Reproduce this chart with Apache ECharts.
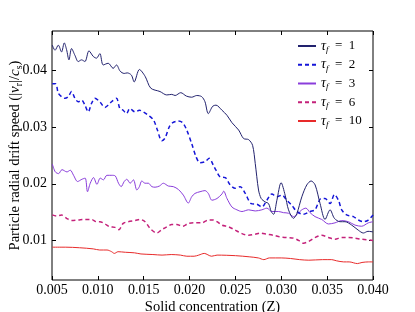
<!DOCTYPE html>
<html>
<head>
<meta charset="utf-8">
<script src="https://cdn.jsdelivr.net/npm/echarts@6/dist/echarts.min.js"></script>
<style>
html,body{margin:0;padding:0;background:#fff;}
#chart{width:415px;height:312px;}
</style>
</head>
<body>
<div id="chart"></div>
<script>
// Solid concentration Z (x) vs particle radial drift speed (y), one array per tau_f
const tau1 = [[0.00503,0.0445],[0.00533,0.0436],[0.00569,0.0445],[0.00604,0.0433],[0.00634,0.0449],[0.00659,0.0437],[0.00685,0.0419],[0.00713,0.0439],[0.0075,0.0427],[0.00786,0.0416],[0.00822,0.0419],[0.00859,0.0416],[0.00903,0.0435],[0.0095,0.0425],[0.00985,0.0422],[0.01022,0.0430],[0.01058,0.0410],[0.01113,0.0413],[0.01167,0.0404],[0.01203,0.0410],[0.01243,0.0399],[0.01287,0.0395],[0.0132,0.0396],[0.01366,0.0392],[0.01396,0.0380],[0.01453,0.0402],[0.01515,0.0390],[0.01577,0.0369],[0.01678,0.0363],[0.01751,0.0357],[0.01806,0.0358],[0.01842,0.0356],[0.01904,0.0361],[0.01965,0.0355],[0.02023,0.0353],[0.02078,0.0356],[0.02132,0.0354],[0.02168,0.0345],[0.02204,0.0324],[0.02252,0.0337],[0.02288,0.0339],[0.02353,0.0330],[0.02408,0.0321],[0.02462,0.0308],[0.02535,0.0295],[0.02589,0.0280],[0.02644,0.0278],[0.02687,0.0268],[0.02716,0.0236],[0.02752,0.0189],[0.02781,0.0174],[0.02824,0.0168],[0.02861,0.0165],[0.0289,0.0151],[0.02916,0.0146],[0.02952,0.0171],[0.02998,0.0202],[0.03042,0.0180],[0.03079,0.0154],[0.03133,0.0139],[0.03169,0.0147],[0.03224,0.0177],[0.03278,0.0198],[0.03325,0.0205],[0.03369,0.0198],[0.03423,0.0165],[0.03477,0.0137],[0.03532,0.0154],[0.03579,0.0139],[0.0364,0.0133],[0.03695,0.0133],[0.03768,0.0127],[0.0384,0.0118],[0.03895,0.0113],[0.03945,0.0116],[0.04,0.0115]];
const tau2 = [[0.00503,0.0377],[0.00539,0.0377],[0.00569,0.0360],[0.00604,0.0354],[0.00641,0.0351],[0.00677,0.0354],[0.00713,0.0363],[0.0075,0.0351],[0.00786,0.0345],[0.00822,0.0348],[0.00859,0.0339],[0.00895,0.0327],[0.00931,0.0342],[0.00968,0.0351],[0.01022,0.0345],[0.01077,0.0335],[0.01113,0.0339],[0.01149,0.0345],[0.01203,0.0351],[0.0124,0.0333],[0.01276,0.0330],[0.01312,0.0324],[0.01349,0.0333],[0.01406,0.0327],[0.01453,0.0330],[0.01497,0.0327],[0.01551,0.0321],[0.01606,0.0313],[0.01649,0.0295],[0.01697,0.0276],[0.01733,0.0281],[0.0178,0.0301],[0.01817,0.0308],[0.01878,0.0311],[0.01925,0.0308],[0.01969,0.0295],[0.02023,0.0271],[0.0207,0.0248],[0.02114,0.0237],[0.02168,0.0239],[0.02215,0.0245],[0.02258,0.0233],[0.02288,0.0224],[0.02335,0.0212],[0.02389,0.0211],[0.02443,0.0198],[0.02498,0.0192],[0.02552,0.0195],[0.02607,0.0183],[0.02672,0.0165],[0.02734,0.0164],[0.02788,0.0159],[0.02843,0.0171],[0.02897,0.0182],[0.02952,0.0177],[0.03006,0.0180],[0.0306,0.0171],[0.03115,0.0162],[0.03169,0.0151],[0.03242,0.0146],[0.03314,0.0151],[0.03368,0.0154],[0.03434,0.0174],[0.03477,0.0174],[0.03532,0.0165],[0.03579,0.0181],[0.03623,0.0171],[0.03659,0.0154],[0.03713,0.0145],[0.03786,0.0142],[0.0384,0.0136],[0.03895,0.0133],[0.03949,0.0136],[0.04,0.0145]];
const tau3 = [[0.00503,0.0235],[0.00536,0.0221],[0.00572,0.0218],[0.00609,0.0225],[0.00663,0.0221],[0.00699,0.0224],[0.00735,0.0215],[0.00779,0.0204],[0.00826,0.0208],[0.00862,0.0210],[0.00887,0.0186],[0.00917,0.0201],[0.00953,0.0211],[0.0099,0.0199],[0.01026,0.0210],[0.01061,0.0207],[0.01098,0.0215],[0.01153,0.0215],[0.01189,0.0214],[0.01225,0.0201],[0.01254,0.0195],[0.01287,0.0204],[0.01316,0.0208],[0.01352,0.0201],[0.01388,0.0207],[0.01425,0.0189],[0.01453,0.0195],[0.01479,0.0205],[0.01515,0.0201],[0.01551,0.0201],[0.01588,0.0195],[0.01624,0.0194],[0.01671,0.0196],[0.01714,0.0201],[0.01769,0.0196],[0.01823,0.0195],[0.01878,0.0190],[0.01932,0.0180],[0.01986,0.0166],[0.02023,0.0177],[0.02059,0.0183],[0.02114,0.0186],[0.02168,0.0188],[0.02204,0.0183],[0.02244,0.0171],[0.02299,0.0174],[0.02353,0.0182],[0.02372,0.0187],[0.02408,0.0174],[0.02462,0.0159],[0.02516,0.0154],[0.02571,0.0151],[0.02644,0.0154],[0.02716,0.0152],[0.02788,0.0154],[0.02843,0.0157],[0.02897,0.0151],[0.0297,0.0151],[0.03024,0.0149],[0.03079,0.0148],[0.03133,0.0142],[0.03224,0.0154],[0.03268,0.0157],[0.03314,0.0149],[0.03368,0.0142],[0.03441,0.0137],[0.03514,0.0129],[0.03586,0.0131],[0.03659,0.0135],[0.03732,0.0133],[0.03804,0.0127],[0.03876,0.0125],[0.03949,0.0131],[0.04,0.0133]];
const tau6 = [[0.00503,0.0145],[0.0055,0.0143],[0.00604,0.0145],[0.00659,0.0139],[0.00713,0.0135],[0.00786,0.0136],[0.00859,0.0137],[0.00931,0.0137],[0.00985,0.0133],[0.01022,0.0133],[0.01077,0.0129],[0.01131,0.0124],[0.01186,0.0123],[0.01229,0.0119],[0.01276,0.0130],[0.0133,0.0133],[0.01406,0.0135],[0.01461,0.0137],[0.01515,0.0133],[0.0157,0.0121],[0.01643,0.0113],[0.01697,0.0119],[0.01751,0.0124],[0.01806,0.0128],[0.0186,0.0128],[0.01925,0.0125],[0.01986,0.0130],[0.0206,0.0131],[0.02132,0.0131],[0.02204,0.0136],[0.02258,0.0136],[0.02299,0.0133],[0.02353,0.0127],[0.02426,0.0124],[0.02498,0.0118],[0.02571,0.0112],[0.02644,0.0109],[0.02716,0.0111],[0.0277,0.0113],[0.02843,0.0111],[0.02916,0.0109],[0.02988,0.0106],[0.0306,0.0105],[0.03133,0.0104],[0.03188,0.0100],[0.03242,0.0095],[0.03297,0.0098],[0.03368,0.0105],[0.03441,0.0109],[0.03514,0.0105],[0.03586,0.0102],[0.03659,0.0105],[0.03732,0.0105],[0.03804,0.0104],[0.03876,0.0102],[0.04,0.0100]];
const tau10 = [[0.00503,0.0088],[0.0065,0.0088],[0.008,0.0087],[0.0095,0.0085],[0.0102,0.0083],[0.011,0.0083],[0.0115,0.0080],[0.0118,0.0077],[0.0122,0.0080],[0.013,0.0079],[0.014,0.0078],[0.0147,0.0076],[0.016,0.0075],[0.017,0.0074],[0.018,0.0075],[0.019,0.0074],[0.0197,0.0072],[0.0205,0.0072],[0.021,0.0074],[0.0216,0.0077],[0.0224,0.0072],[0.023,0.0074],[0.025,0.0073],[0.0265,0.0071],[0.0275,0.0069],[0.0281,0.0066],[0.0287,0.0069],[0.03,0.0069],[0.031,0.0068],[0.032,0.0066],[0.033,0.0065],[0.0345,0.0066],[0.0355,0.0066],[0.036,0.0064],[0.0368,0.0062],[0.0374,0.0062],[0.0383,0.0059],[0.0388,0.0061],[0.0395,0.0062],[0.04,0.0062]];

const tauLabels = ['1', '2', '3', '6', '10'];
const xTicks = [0.005, 0.010, 0.015, 0.020, 0.025, 0.030, 0.035, 0.040];
const yTicks = [0.01, 0.02, 0.03, 0.04];

const SERIF = '"Liberation Serif", "DejaVu Serif", serif';
const seriesData = [tau1, tau2, tau3, tau6, tau10];
const colors = ['#22226e', '#1515d8', '#8a3ddb', '#c4217a', '#e82a2a'];
const dashed = [false, true, false, true, false];

const chart = echarts.init(document.getElementById('chart'), null, {renderer: 'canvas'});

const tickCommon = {show: true, inside: true, length: 4, lineStyle: {color: '#000', width: 1}};

const option = {
  backgroundColor: '#fff',
  animation: false,
  grid: {left: 52, right: 42, top: 31, bottom: 32, outerBoundsMode: 'none', containLabel: false, show: true, borderColor: '#000', borderWidth: 1, backgroundColor: 'transparent'},
  legend: {
    orient: 'vertical', left: 292, top: 34,
    itemWidth: 18, itemHeight: 12, itemGap: 3.75,
    itemStyle: {opacity: 0},
    data: tauLabels.map(t => 'τf = ' + t),
    formatter: function (name) { return '{t|τ}{s|f}{n|  =  ' + name.split('= ')[1] + '}'; },
    textStyle: {
      fontFamily: SERIF, fontSize: 13, color: '#000',
      rich: {
        t: {fontFamily: SERIF, fontStyle: 'italic', fontSize: 14, color: '#000'},
        s: {fontFamily: SERIF, fontStyle: 'italic', fontSize: 9, color: '#000', padding: [7, 0, 0, 0]},
        n: {fontFamily: SERIF, fontSize: 13, color: '#000'}
      }
    }
  },
  xAxis: [{
    type: 'value', min: 0.005, max: 0.040, interval: 0.005, position: 'bottom',
    axisLine: {show: false}, splitLine: {show: false},
    axisTick: tickCommon,
    axisLabel: {fontFamily: SERIF, fontSize: 14, color: '#000', margin: 3, formatter: v => v.toFixed(3)},
    name: 'Solid concentration (Z)', nameLocation: 'middle', nameGap: 20, nameMoveOverlap: false,
    nameTextStyle: {fontFamily: SERIF, fontSize: 14.5, color: '#000'}
  }, {
    type: 'value', min: 0.005, max: 0.040, interval: 0.005, position: 'top',
    axisLine: {show: false}, splitLine: {show: false},
    axisTick: tickCommon, axisLabel: {show: false}
  }],
  yAxis: [{
    type: 'value', min: 0.003, max: 0.047, position: 'left',
    axisLine: {show: false}, splitLine: {show: false},
    axisTick: Object.assign({customValues: yTicks}, tickCommon),
    axisLabel: {customValues: yTicks, fontFamily: SERIF, fontSize: 14, color: '#000', margin: 5, formatter: v => v.toFixed(2)},
    name: 'Particle radial drift speed (|{i|v}{s|r}|/{i|c}{s|s})', nameLocation: 'middle', nameGap: 28, nameRotate: 90, nameMoveOverlap: false,
    nameTextStyle: {
      fontFamily: SERIF, fontSize: 14.5, color: '#000',
      rich: {
        i: {fontFamily: SERIF, fontStyle: 'italic', fontSize: 15, color: '#000'},
        s: {fontFamily: SERIF, fontSize: 10, color: '#000', padding: [7, 0, 0, 0]}
      }
    }
  }, {
    type: 'value', min: 0.003, max: 0.047, position: 'right',
    axisLine: {show: false}, splitLine: {show: false},
    axisTick: Object.assign({customValues: yTicks}, tickCommon),
    axisLabel: {show: false, customValues: yTicks}
  }],
  series: seriesData.map((d, i) => ({
    name: 'τf = ' + tauLabels[i],
    type: 'line',
    data: d,
    xAxisIndex: 0, yAxisIndex: 0,
    showSymbol: false, symbol: 'none',
    smooth: 0.3,
    lineStyle: {color: colors[i], width: dashed[i] ? 1.5 : 1, type: dashed[i] ? [4, 3] : 'solid'},
    itemStyle: {color: colors[i]},
    z: 10 - i
  }))
};
chart.setOption(option);
</script>
</body>
</html>
